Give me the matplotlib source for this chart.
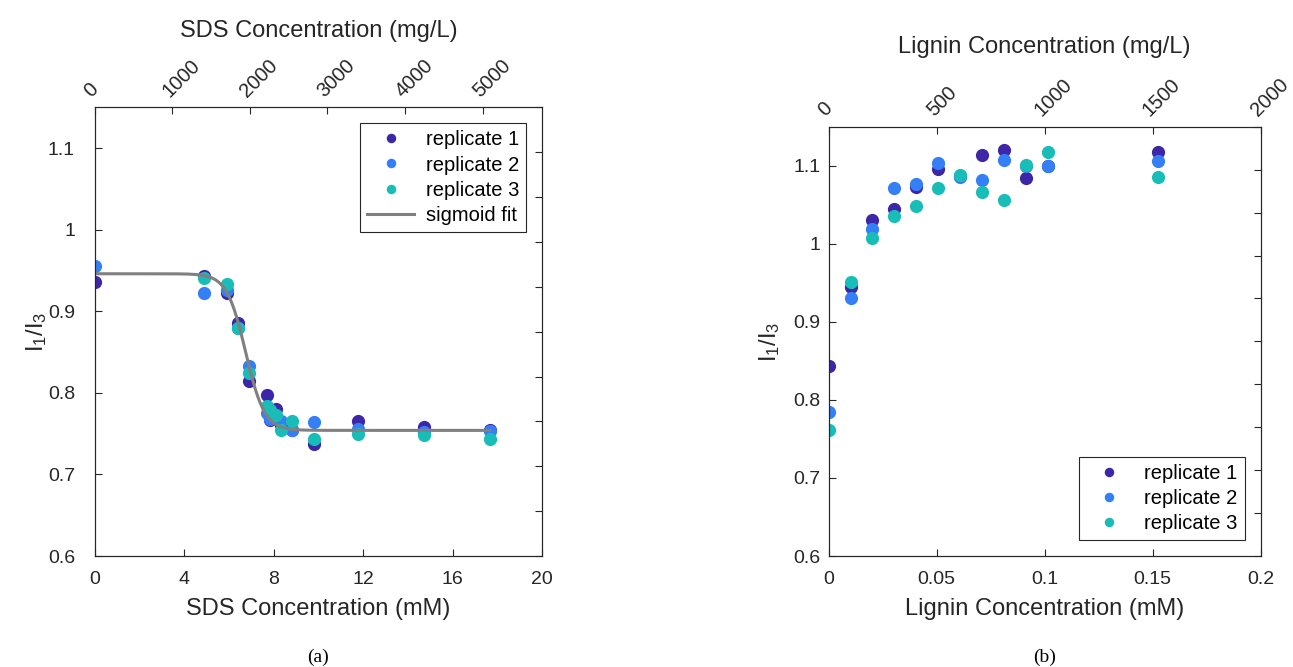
import numpy as np
import matplotlib
matplotlib.use("Agg")
import matplotlib.pyplot as plt

# (a) SDS series, I1/I3 per replicate
sds_mM = [0, 4.9, 5.9, 6.4, 6.9, 7.7, 7.85, 8.1, 8.35, 8.8, 9.8, 11.75, 14.7, 17.65]
sds_rep1 = [0.936, 0.943, 0.923, 0.886, 0.815, 0.797, 0.767, 0.780, 0.760, 0.755, 0.737, 0.765, 0.758, 0.755]
sds_rep2 = [0.955, 0.922, 0.926, 0.879, 0.833, 0.775, 0.768, 0.770, 0.765, 0.754, 0.764, 0.756, 0.752, 0.753]
sds_rep3 = [np.nan, 0.941, 0.933, 0.880, 0.824, 0.784, 0.779, 0.773, 0.755, 0.766, 0.744, 0.750, 0.748, 0.744]

# sigmoid fit parameters (top, bottom, midpoint mM, width mM)
fit_top, fit_bottom, fit_x0, fit_w = 0.946, 0.754, 6.75, 0.42
fit_xmax = 17.65

# (b) lignin series
lig_mM = [0, 0.0102, 0.0203, 0.0305, 0.0406, 0.0508, 0.0609, 0.0711, 0.0812, 0.0914, 0.1015, 0.1523]
lig_rep1 = [0.843, 0.945, 1.030, 1.045, 1.073, 1.096, 1.087, 1.114, 1.120, 1.084, 1.100, 1.118]
lig_rep2 = [0.785, 0.930, 1.019, 1.071, 1.077, 1.104, 1.086, 1.082, 1.107, 1.100, 1.100, 1.106]
lig_rep3 = [0.762, 0.951, 1.008, 1.035, 1.048, 1.071, 1.088, 1.067, 1.056, 1.101, 1.117, 1.085]

sds_mw = 288.38      # g/mol, for mg/L top axis
lignin_mw = 10000.0

colors = ['#3D26A8', '#347FF5', '#17BDB6']
labels = ['replicate 1', 'replicate 2', 'replicate 3']
dark = '#262626'

plt.rcParams['font.family'] = ['Liberation Sans', 'DejaVu Sans']
plt.rcParams['mathtext.fontset'] = 'custom'
plt.rcParams['mathtext.rm'] = 'Liberation Sans'
plt.rcParams['mathtext.it'] = 'Liberation Sans'

fig = plt.figure(figsize=(12.93, 6.67), dpi=100)


def style_axes(ax):
    for s in ax.spines.values():
        s.set_color(dark)
        s.set_linewidth(0.8)
    ax.tick_params(direction='in', length=5, width=0.8, colors=dark,
                   labelsize=14, labelcolor=dark)


def make_panel(pos, x, reps, xlim, xticks, xlabel, top_max, top_ticks, top_label,
               caption, ypad, ylabelpad, toppad):
    ax = fig.add_axes(pos)
    for y, c, lab in zip(reps, colors, labels):
        ax.plot(x, y, 'o', ms=9.5, mec='none', color=c, label=lab)
    ax.set_xlim(*xlim)
    ax.set_ylim(0.6, 1.15)
    ax.set_xticks(xticks)
    ax.set_xticklabels([('%g' % t) for t in xticks])
    ax.set_yticks([0.6, 0.7, 0.8, 0.9, 1.0, 1.1])
    ax.set_yticklabels(['0.6', '0.7', '0.8', '0.9', '1', '1.1'])
    style_axes(ax)
    ax.tick_params(top=False, right=False)
    ax.tick_params(axis='x', pad=11)
    ax.tick_params(axis='y', pad=ypad)
    ax.set_xlabel(xlabel, fontsize=17, color=dark, labelpad=7)
    ax.set_ylabel(r'I$_1$/I$_3$', fontsize=17, color=dark, labelpad=ylabelpad)

    # second axes for the mg/L scale on top
    ax2 = fig.add_axes(pos, facecolor='none')
    ax2.set_xlim(0, top_max)
    ax2.set_ylim(0, 1)
    ax2.xaxis.tick_top()
    ax2.yaxis.tick_right()
    ax2.xaxis.set_label_position('top')
    ax2.set_xticks(top_ticks)
    ax2.set_xticklabels([str(t) for t in top_ticks], rotation=45, ha='left',
                        va='bottom', rotation_mode='anchor', fontsize=14.5)
    ax2.set_yticks(np.arange(0, 1.01, 0.1))
    ax2.set_yticklabels([])
    style_axes(ax2)
    ax2.tick_params(axis='x', pad=5, labelsize=14.5)
    ax2.set_xlabel(top_label, fontsize=17, color=dark, labelpad=toppad)

    fig.text(pos[0] + pos[2] / 2, 0.015, caption, ha='center', va='center',
             fontsize=14, family='Liberation Serif')
    return ax


ax_a = make_panel([0.0731, 0.1664, 0.3463, 0.6727], sds_mM,
                  [sds_rep1, sds_rep2, sds_rep3], (0, 20), [0, 4, 8, 12, 16, 20],
                  'SDS Concentration (mM)', 20 * sds_mw,
                  [0, 1000, 2000, 3000, 4000, 5000],
                  'SDS Concentration (mg/L)', '(a)', 14, -1, 13)

xf = np.linspace(0, fit_xmax, 400)
yf = fit_bottom + (fit_top - fit_bottom) / (1 + np.exp((xf - fit_x0) / fit_w))
ax_a.plot(xf, yf, color='#808080', lw=2.2, label='sigmoid fit')

ax_b = make_panel([0.6408, 0.1664, 0.3343, 0.6436], lig_mM,
                  [lig_rep1, lig_rep2, lig_rep3], (0, 0.2), [0, 0.05, 0.1, 0.15, 0.2],
                  'Lignin Concentration (mM)', 0.2 * lignin_mw,
                  [0, 500, 1000, 1500, 2000],
                  'Lignin Concentration (mg/L)', '(b)', 6, 8, 16)

for ax, loc in ((ax_a, 'upper right'), (ax_b, 'lower right')):
    leg = ax.legend(loc=loc, fontsize=14.5, fancybox=False, framealpha=1,
                    edgecolor=dark, markerscale=0.72, handlelength=2.3,
                    borderaxespad=0.8, labelspacing=0.3, handletextpad=0.6,
                    borderpad=0.35)
    leg.get_frame().set_linewidth(0.8)
    leg.set_zorder(10)

fig.savefig('out.png', dpi=100)
